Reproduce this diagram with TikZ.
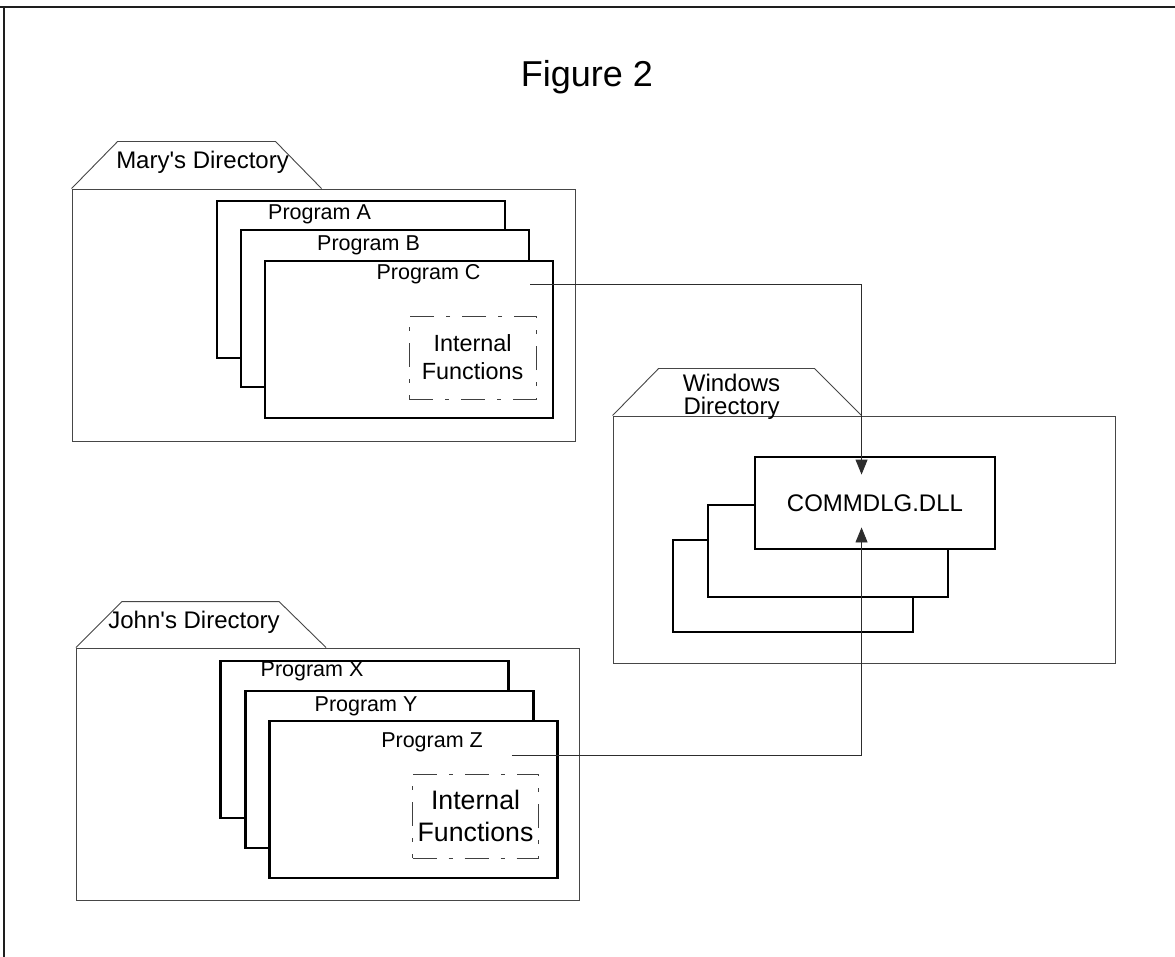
\documentclass[tikz,border=0pt]{standalone}
\usepackage{fontspec}
\setsansfont{Liberation Sans}
\usepackage{tikz}
\usetikzlibrary{arrows.meta, positioning, calc}
\definecolor{framecolor}{RGB}{30, 30, 30}
\definecolor{foldercolor}{RGB}{70, 70, 70}
\definecolor{linkcolor}{RGB}{45, 45, 45}

\begin{document}
\begin{tikzpicture}[
    x=1pt, y=-1pt,
    folder/.style={
        rectangle,
        draw=foldercolor,
        line width=0.9pt,
        minimum width=503pt,
        minimum height=252pt,
        inner sep=0pt
    },
    foldertab/.style={
        draw=foldercolor,
        line width=0.9pt
    },
    tabtext/.style={
        font=\sffamily\fontsize{24}{23}\selectfont,
        align=center,
        inner sep=0pt
    },
    program/.style={
        rectangle,
        draw=black,
        fill=white,
        line width=2.9pt,
        minimum width=288pt,
        minimum height=157pt,
        inner sep=0pt
    },
    progtitle/.style={
        font=\sffamily\fontsize{21.5}{24}\selectfont,
        inner sep=0pt
    },
    internal/.style={
        rectangle,
        draw=black!75,
        line width=1pt,
        dash pattern=on 24pt off 12pt on 4pt off 12pt,
        minimum width=127pt,
        minimum height=83pt,
        inner sep=0pt,
        align=center
    },
    dllbox/.style={
        rectangle,
        draw=black,
        fill=white,
        line width=2.9pt,
        minimum width=240pt,
        minimum height=92pt,
        inner sep=0pt,
        font=\sffamily\fontsize{24}{26}\selectfont
    },
    link/.style={
        line width=0.9pt,
        draw=linkcolor,
        -{Triangle[length=15pt, width=12pt]}
    }
]

\useasboundingbox (0,0) rectangle (1175,957);

% Page frame
\draw[framecolor, line width=1.8pt] (0,7) -- (1175,7);
\draw[framecolor, line width=1.2pt] (4,7) -- (4,957);

% Title
\node[font=\sffamily\fontsize{36}{40}\selectfont] (title) at (587,77) {Figure 2};

% Mary's folder
\node[folder] (mary) at (323.5,315) {};
\draw[foldertab] (mary.north west) -- ++(46,-47) -- ++(158,0) -- ++(46,47);
\node[tabtext] (mary-tab) at ($(mary.north west)+(131,-26)$) {Mary\textquotesingle s Directory};

\node[program, anchor=north west] (progA) at ($(mary.north west)+(144,11)$) {};
\node[program, anchor=north west] (progB) at ($(progA.north west)+(24,29)$) {};
\node[program, anchor=north west] (progC) at ($(progB.north west)+(24,31)$) {};
\node[progtitle] (progA-title) at ($(progA.north west)+(104,15)$) {Program A};
\node[progtitle] (progB-title) at ($(progB.north west)+(129,17)$) {Program B};
\node[progtitle] (progC-title) at ($(progC.north west)+(165,15)$) {Program C};

\node[internal, anchor=north west, font=\sffamily\fontsize{23.4}{28}\selectfont] (maryfunc)
    at ($(progC.north west)+(145,56)$) {Internal\\Functions};

% John's folder
\node[folder] (john) at (328,774) {};
\draw[foldertab] (john.north west) -- ++(46,-46) -- ++(157,0) -- ++(47,46);
\node[tabtext] (john-tab) at ($(john.north west)+(118,-25)$) {John\textquotesingle s Directory};

\node[program, anchor=north west] (progX) at ($(john.north west)+(143,12)$) {};
\node[program, anchor=north west] (progY) at ($(progX.north west)+(25,30)$) {};
\node[program, anchor=north west] (progZ) at ($(progY.north west)+(24,30)$) {};
\node[progtitle] (progX-title) at ($(progX.north west)+(93,12)$) {Program X};
\node[progtitle] (progY-title) at ($(progY.north west)+(122,17)$) {Program Y};
\node[progtitle] (progZ-title) at ($(progZ.north west)+(164,23)$) {Program Z};

\node[internal, anchor=north west, minimum width=126pt, minimum height=84pt,
    font=\sffamily\fontsize{26.7}{32}\selectfont] (johnfunc)
    at ($(progZ.north west)+(144,54)$) {Internal\\Functions};

% Windows folder
\node[folder, minimum width=502pt, minimum height=247pt] (windows) at (864,539.5) {};
\draw[foldertab] (windows.north west) -- ++(46,-47) -- ++(156,0) -- ++(47,47);
\node[tabtext] (windows-tab) at ($(windows.north west)+(119,-19)$) {Windows\\Directory};

\node[dllbox] (dll3) at (793,586) {};
\node[dllbox, anchor=north west] (dll2) at ($(dll3.north west)+(35,-35)$) {};
\node[dllbox, anchor=north west] (dll) at ($(dll2.north west)+(47,-48)$) {COMMDLG.DLL};

% Links to the shared DLL
\coordinate (maryout) at ($(progC.north east)+(-24,25)$);
\coordinate (johnout) at ($(progZ.north east)+(-47,36)$);
\coordinate (dlltop) at ($(dll.north west)+(108,19)$);
\coordinate (dllbot) at ($(dll.south west)+(108,-23)$);

\draw[link] (maryout) -| (dlltop);
\draw[link] (johnout) -| (dllbot);

\end{tikzpicture}
\end{document}
